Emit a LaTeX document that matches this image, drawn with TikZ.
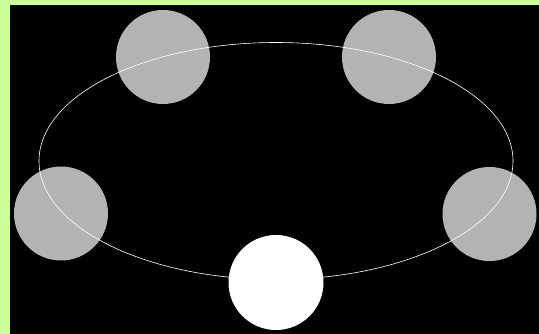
\documentclass[tikz,border=0pt]{standalone}
\definecolor{bggreen}{RGB}{204,255,153}
\definecolor{discgray}{RGB}{179,179,179}
\begin{document}
\begin{tikzpicture}[x=1pt,y=-1pt,
  graydisc/.style={circle,fill=discgray,minimum size=94pt,inner sep=0pt},
  whitedisc/.style={circle,fill=white,minimum size=95pt,inner sep=0pt},
  orbit/.style={draw=white,line width=0.6pt}]
\useasboundingbox (0,0) rectangle (539,334);
\fill[bggreen] (0,0) rectangle (539,334);
\fill[black] (10,5) rectangle (539,334);
\node[graydisc] (tl) at (163,57) {};
\node[graydisc] (tr) at (389,57) {};
\node[graydisc] (l) at (61,213.5) {};
\node[graydisc] (r) at (489.5,214) {};
\coordinate (c) at (276,161);
\draw[orbit] (c) ellipse [x radius=237, y radius=118.5];
\node[whitedisc] (b) at (276,282.5) {};
\end{tikzpicture}
\end{document}
